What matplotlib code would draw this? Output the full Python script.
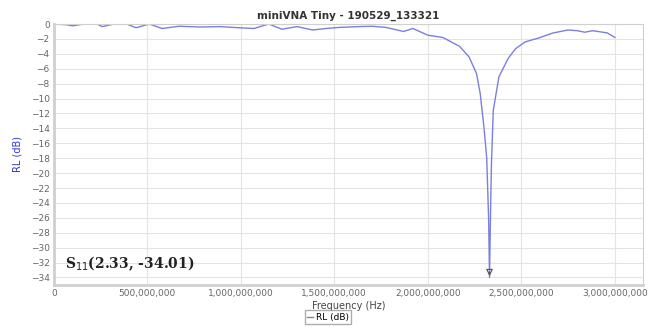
import matplotlib.pyplot as plt
from matplotlib.ticker import FuncFormatter

# frequency in GHz-ish units of Hz, return loss in dB
freq = [0.005e9, 0.07e9, 0.10e9, 0.16e9, 0.23e9, 0.26e9, 0.32e9, 0.39e9, 0.44e9,
        0.51e9, 0.58e9, 0.67e9, 0.78e9, 0.89e9, 0.99e9, 1.07e9, 1.15e9, 1.22e9,
        1.30e9, 1.385e9, 1.455e9, 1.53e9, 1.63e9, 1.70e9, 1.775e9, 1.87e9, 1.92e9,
        2.00e9, 2.08e9, 2.17e9, 2.22e9, 2.26e9, 2.28e9, 2.30e9, 2.315e9, 2.325e9,
        2.33e9, 2.335e9, 2.34e9, 2.35e9, 2.38e9, 2.43e9, 2.47e9, 2.52e9, 2.59e9,
        2.67e9, 2.75e9, 2.80e9, 2.84e9, 2.88e9, 2.91e9, 2.96e9, 3.00e9]
rl = [0.0, -0.1, -0.25, 0.0, 0.0, -0.35, 0.0, 0.0, -0.5,
      0.0, -0.6, -0.3, -0.4, -0.35, -0.5, -0.6, 0.0, -0.7,
      -0.35, -0.8, -0.6, -0.45, -0.35, -0.3, -0.45, -1.0, -0.6,
      -1.5, -1.8, -3.0, -4.4, -6.6, -9.3, -13.8, -18.0, -26.0,
      -34.01, -26.0, -19.0, -11.6, -7.1, -4.6, -3.3, -2.4, -1.9,
      -1.2, -0.8, -0.9, -1.1, -0.9, -1.0, -1.2, -1.8]

x_ticks = [0, 5e8, 1e9, 1.5e9, 2e9, 2.5e9, 3e9]
y_ticks = list(range(0, -36, -2))

fig = plt.figure(figsize=(6.56, 3.29), dpi=100)
ax = fig.add_axes([0.082, 0.134, 0.898, 0.793])

ax.plot(freq, rl, color='#7b7fe0', linewidth=1.0, label='RL (dB)')
ax.annotate('', xy=(2.33e9, -34.2), xytext=(2.33e9, -32.9),
            arrowprops=dict(arrowstyle='-|>', color='#555555', lw=0.8,
                            fill=False, mutation_scale=10))

ax.set_xlim(0, 3.15e9)
ax.set_ylim(-35, 0)
ax.set_xticks(x_ticks)
ax.set_yticks(y_ticks)
ax.xaxis.set_major_formatter(FuncFormatter(lambda v, p: f"{int(v):,}"))
ax.tick_params(labelsize=6.5, colors='#666666', length=0, pad=3)
ax.grid(color='#e4e4e4', linewidth=0.8)
for s in ax.spines.values():
    s.set_color('#d0d0d0')
ax.spines['left'].set_linewidth(2)
ax.spines['bottom'].set_linewidth(2)

ax.set_title('miniVNA Tiny - 190529_133321', fontsize=7.5, color='#333333',
             fontweight='bold', pad=4)
ax.set_xlabel('Frequency (Hz)', fontsize=7, color='#444444', labelpad=2)
ax.set_ylabel('RL (dB)', fontsize=7, color='#3333dd', labelpad=6)

ax.text(0.06e9, -32.2, 'S$_{11}$(2.33, -34.01)', fontsize=10, fontweight='bold',
        family='DejaVu Serif', color='#222222', va='center')

leg = fig.legend(loc='lower center', bbox_to_anchor=(0.5, 0.0), fontsize=6.5,
                 handlelength=0.6, handletextpad=0.3, borderpad=0.3,
                 fancybox=False, frameon=True)
leg.get_frame().set_edgecolor('#999999')
leg.get_lines()[0].set_color('#888888')

fig.savefig('out.png', dpi=100)
